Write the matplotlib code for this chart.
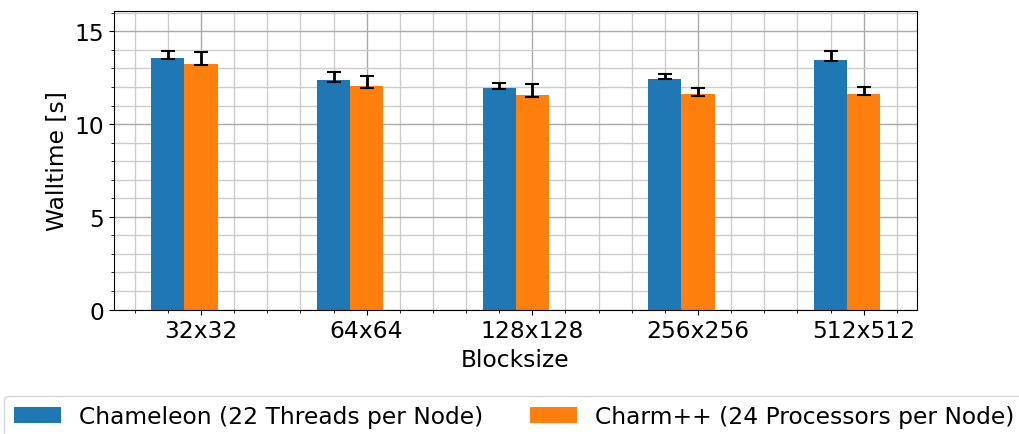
import matplotlib
matplotlib.use("Agg")
import matplotlib.pyplot as plt
import numpy as np
from matplotlib.ticker import MultipleLocator

blocksizes = ['32x32', '64x64', '128x128', '256x256', '512x512']

chameleon = [13.58, 12.39, 11.96, 12.44, 13.47]
chameleon_lo = [0.05, 0.11, 0.07, 0.02, 0.07]
chameleon_hi = [0.36, 0.42, 0.25, 0.26, 0.49]

charm = [13.22, 12.07, 11.55, 11.60, 11.60]
charm_lo = [0.03, 0.13, 0.08, 0.11, 0.03]
charm_hi = [0.67, 0.52, 0.61, 0.34, 0.40]

plt.rcParams['font.size'] = 16.8

fig = plt.figure(figsize=(10.2, 4.35), dpi=100)
ax = fig.add_axes([0.1118, 0.2862, 0.7869, 0.6862])

x = np.arange(len(blocksizes))
w = 0.2
ax.bar(x - w, chameleon, w, color='#1f77b4', label='Chameleon (22 Threads per Node)',
       yerr=[chameleon_lo, chameleon_hi], capsize=5,
       error_kw=dict(ecolor='black', elinewidth=2, capthick=1.5))
ax.bar(x, charm, w, color='#ff7f0e', label='Charm++ (24 Processors per Node)',
       yerr=[charm_lo, charm_hi], capsize=5,
       error_kw=dict(ecolor='black', elinewidth=2, capthick=1.5))

ax.set_xticks(x)
ax.set_xticklabels(blocksizes)
ax.xaxis.set_minor_locator(MultipleLocator(0.2))
ax.yaxis.set_major_locator(MultipleLocator(5))
ax.yaxis.set_minor_locator(MultipleLocator(1))
ax.set_ylim(0, 16.1)
ax.set_xlim(-0.525, 4.32)

ax.set_axisbelow(True)
ax.grid(which='major', color='#aaaaaa', linewidth=1.0)
ax.grid(which='minor', color='#cccccc', linewidth=1.0)

ax.set_xlabel('Blocksize')
ax.set_ylabel('Walltime [s]')

fig.legend(loc='upper left', bbox_to_anchor=(4.5 / 1020, 1 - 396.5 / 435), ncol=2,
           borderaxespad=0)

fig.savefig('out.png', dpi=100)
